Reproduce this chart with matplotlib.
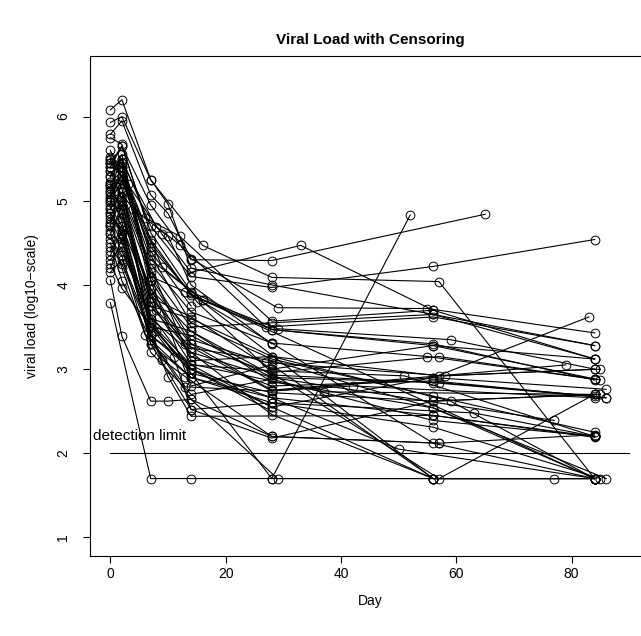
import matplotlib
matplotlib.use("Agg")
import matplotlib.pyplot as plt

plt.rcParams['font.family'] = ['Liberation Sans', 'DejaVu Sans']

# visit days and log10 viral load, one list per subject
days = [
    [0, 7, 14, 28, 56, 84],
    [0, 2, 7, 10, 14, 28, 57, 84],
    [0, 2, 7, 14, 28, 52],
    [0, 2, 9, 14, 33, 56],
    [0, 2, 7, 14, 28, 65],
    [0, 2, 7, 14, 28, 56, 84],
    [0, 2, 7, 16, 28, 57, 84],
    [0, 2, 7, 10, 14, 28, 56, 84],
    [0, 2, 7, 10, 14, 29, 55, 84],
    [0, 2, 6, 12, 28, 56, 84],
    [0, 2, 8, 12, 27, 56, 84],
    [0, 2, 7, 14, 29, 59, 84],
    [0, 2, 9, 16, 28, 56, 85],
    [0, 1, 7, 13, 28, 55, 84],
    [0, 2, 6, 14, 28, 57, 85],
    [0, 2, 7, 13, 28, 56, 86],
    [0, 2, 7, 14, 28, 59, 84],
    [0, 2, 7, 14, 28, 56, 86],
    [0, 2, 7, 14, 28, 56, 84],
    [0, 2, 7, 14, 28, 56, 84],
    [0, 2, 7, 14, 28, 56, 84],
    [0, 2, 8, 14, 28, 56, 84],
    [0, 2, 7, 15, 28, 57, 84],
    [0, 2, 7, 14, 28, 56, 85],
    [0, 3, 7, 14, 28, 56, 84],
    [0, 2, 7, 14, 28, 56, 84],
    [0, 2, 7, 14, 27, 58, 84],
    [0, 2, 7, 14, 28, 56, 84],
    [0, 2, 7, 14, 28, 56, 86],
    [0, 2, 7, 14, 28, 56, 84],
    [0, 2, 8, 14, 28, 56, 84],
    [0, 2, 7, 14, 28, 56, 84],
    [0, 2, 7, 14, 28, 56, 84],
    [0, 2, 7, 14, 28, 57, 84],
    [0, 2, 7, 14, 28],
    [0, 2, 7, 14],
    [0, 7, 14, 56, 84],
    [0, 2, 7, 16, 84],
    [0, 2, 10, 14, 56, 84],
    [0, 2, 7, 13, 28, 42, 84],
    [0, 2, 9, 13, 28, 57],
    [0, 2, 7, 14, 37, 84],
    [0, 2, 7, 14, 28, 63, 84],
    [0, 2, 7, 14, 28, 77],
    [0, 2, 7, 14, 28, 79],
    [0, 2, 6, 14, 28, 50, 84],
    [0, 2, 7, 14, 29, 77],
    [0, 2, 7, 14, 28, 57, 84],
    [0, 2, 7, 14, 28, 56, 83],
    [0, 2, 7, 14, 28, 56, 84],
    [0, 7, 14, 28, 56, 86],
    [0, 2, 7, 14, 28, 51, 84],
    [0, 1, 4, 10, 14, 28],
    [0, 2, 11, 14, 28, 56, 85],
]

viral_load = [
    [3.79, 1.70, 1.70, 1.70, 1.70, 1.70],
    [4.06, 3.39, 2.62, 2.62, 2.64, 2.20, 2.12, 2.22],
    [4.85, 4.62, 3.55, 2.95, 1.70, 4.83],
    [5.10, 5.30, 4.60, 4.15, 4.47, 3.70],
    [5.45, 5.65, 4.95, 4.30, 4.29, 4.84],
    [5.30, 5.50, 4.70, 4.10, 3.97, 4.22, 4.54],
    [6.08, 6.20, 5.25, 4.47, 4.09, 4.04, 1.70],
    [5.93, 6.00, 5.25, 4.96, 4.20, 4.00, 3.65, 3.12],
    [5.79, 5.95, 5.07, 4.85, 4.31, 3.73, 3.72, 3.43],
    [5.75, 5.67, 4.80, 4.58, 3.57, 3.70, 3.12],
    [5.50, 5.45, 4.69, 4.48, 3.50, 3.62, 3.28],
    [5.45, 5.40, 4.54, 3.88, 3.48, 3.35, 3.00],
    [5.40, 5.35, 4.21, 3.82, 3.47, 3.28, 2.87],
    [5.35, 5.20, 4.10, 3.92, 3.31, 3.15, 2.88],
    [4.70, 5.25, 3.77, 3.60, 3.15, 2.92, 3.00],
    [5.52, 5.40, 3.95, 3.30, 2.74, 2.90, 2.76],
    [4.72, 5.05, 4.20, 3.10, 3.15, 2.62, 1.70],
    [5.18, 4.90, 3.60, 3.45, 2.93, 2.84, 2.66],
    [4.95, 5.45, 4.05, 2.80, 3.05, 1.70, 1.70],
    [4.40, 4.70, 3.85, 3.62, 3.00, 3.28, 3.12],
    [5.35, 5.15, 3.40, 3.00, 2.66, 2.45, 2.19],
    [4.60, 4.95, 3.70, 3.25, 3.10, 2.54, 1.70],
    [5.05, 5.30, 4.50, 3.80, 2.96, 3.15, 2.88],
    [4.82, 4.60, 3.30, 2.90, 2.60, 2.31, 1.70],
    [5.45, 5.20, 4.35, 3.55, 3.12, 2.68, 2.25],
    [4.30, 4.45, 3.55, 3.05, 2.55, 1.70, 1.70],
    [5.28, 5.55, 4.10, 3.35, 3.08, 2.92, 3.00],
    [4.55, 4.35, 3.20, 2.70, 2.88, 2.39, 2.20],
    [5.00, 4.80, 3.90, 3.15, 2.80, 2.86, 2.66],
    [4.90, 5.10, 4.25, 3.68, 3.31, 2.12, 1.70],
    [4.78, 4.50, 3.45, 2.95, 2.72, 2.62, 2.70],
    [5.40, 5.65, 4.62, 3.92, 3.47, 3.30, 2.87],
    [4.65, 4.85, 3.75, 3.20, 2.46, 1.70, 1.70],
    [5.12, 4.75, 3.50, 3.40, 2.90, 2.84, 2.68],
    [4.75, 5.00, 3.65, 3.00, 2.50],
    [5.22, 5.35, 4.40, 3.75],
    [5.60, 4.45, 3.90, 1.70, 1.70],
    [4.98, 5.25, 4.30, 3.82, 1.70],
    [4.45, 4.25, 2.91, 2.44, 2.45, 2.20],
    [4.20, 4.55, 3.35, 2.79, 2.74, 2.80, 2.66],
    [4.15, 4.30, 3.11, 2.91, 2.20, 2.12],
    [5.02, 5.10, 3.80, 3.06, 2.73, 2.70],
    [4.35, 4.65, 3.30, 2.52, 2.60, 2.48, 2.20],
    [4.70, 4.40, 3.60, 3.20, 2.90, 2.39],
    [5.08, 4.95, 3.85, 3.30, 2.75, 3.05],
    [4.62, 4.20, 3.41, 2.90, 2.66, 2.05, 1.70],
    [4.50, 4.05, 3.35, 2.64, 1.70, 1.70],
    [5.15, 5.50, 4.06, 3.30, 2.95, 1.70, 2.70],
    [4.92, 4.70, 3.52, 3.00, 2.55, 2.90, 3.62],
    [5.48, 5.30, 4.15, 3.50, 3.55, 3.65, 3.28],
    [5.20, 3.95, 3.45, 2.85, 2.54, 1.70],
    [4.85, 4.65, 3.40, 3.05, 2.98, 2.92, 2.20],
    [5.20, 5.17, 4.90, 4.58, 4.00, 3.30],
    [4.25, 3.96, 3.15, 2.52, 2.18, 2.62, 2.70],
]

detection_limit = 2
limit_days = [0, 90]

fig = plt.figure(figsize=(6.41, 6.36), dpi=100)
ax = fig.add_axes([89.6 / 641, 80 / 636, 560.4 / 641, 500 / 636])

for d, v in zip(days, viral_load):
    ax.plot(d, v, color="black", lw=0.8, marker="o", markersize=6.3,
            mfc="none", mec="black", mew=0.7)

ax.plot(limit_days, [detection_limit, detection_limit], color="black", lw=0.8)
ax.text(5, 2.2, "detection limit", ha="center", va="center", fontsize=11)

ax.set_xlim(-3.6, 93.6)
ax.set_ylim(0.78, 6.72)
ax.set_xticks([0, 20, 40, 60, 80])
ax.set_yticks([1, 2, 3, 4, 5, 6])
ax.tick_params(direction="out", length=5, width=0.8, labelsize=10)
ax.tick_params(axis="x", pad=3)
ax.tick_params(axis="y", pad=9)
for lab in ax.get_yticklabels():
    lab.set_rotation(90)
    lab.set_va("center")
for sp in ax.spines.values():
    sp.set_linewidth(0.8)

ax.set_xlabel("Day", fontsize=10, labelpad=9)
ax.set_ylabel("viral load (log10\u2212scale)", fontsize=10, labelpad=12)
fig.text(370 / 641, 1 - 40 / 636, "Viral Load with Censoring", ha="center",
         va="center", fontsize=11, fontweight="bold")

fig.savefig("out.png", dpi=100)
